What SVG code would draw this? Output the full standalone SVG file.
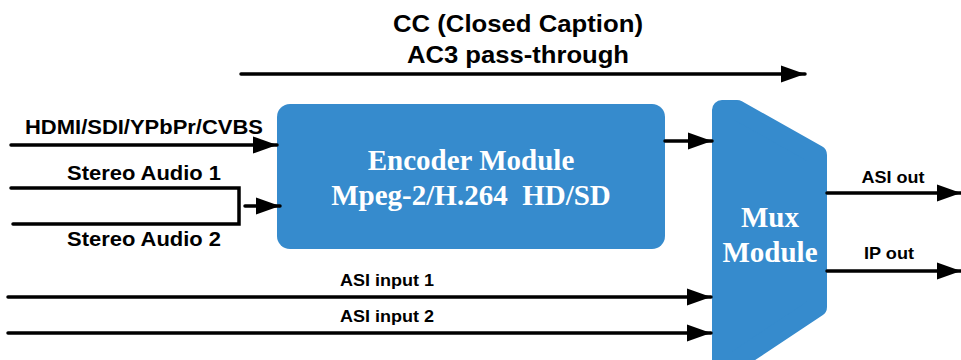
<svg xmlns="http://www.w3.org/2000/svg" width="961" height="360" viewBox="0 0 961 360">
<defs>
<marker id="ah" markerWidth="7" markerHeight="5" refX="7" refY="2.5" orient="auto" markerUnits="strokeWidth">
<path d="M0,0 L7,2.5 L0,5 Z" fill="#000"/>
</marker>
<style>
.ln{stroke:#000;stroke-width:3.5;fill:none;stroke-linecap:round}
.ar{marker-end:url(#ah)}
.lb{font-family:"Liberation Sans",Arial,sans-serif;font-weight:bold;fill:#000;text-anchor:middle}
.nt{font-family:"Liberation Serif","Times New Roman",serif;font-weight:bold;fill:#fff;text-anchor:middle}
.blk{fill:#368bcd}
</style>
</defs>
<rect width="961" height="360" fill="#fff"/>
<g id="encoder">
<rect class="blk" x="277" y="104" width="388" height="145" rx="13"/>
<text class="nt" x="471" y="170" font-size="29">Encoder Module</text>
<text class="nt" x="471" y="205" font-size="29" xml:space="preserve">Mpeg-2/H.264  HD/SD</text>
</g>
<g id="mux">
<path class="blk" d="M722,110 L737,110 L817,155 L817,307 L722,370 Z" stroke="#368bcd" stroke-width="20" stroke-linejoin="round"/>
<text class="nt" x="770" y="227" font-size="29">Mux</text>
<text class="nt" x="770" y="262" font-size="29">Module</text>
</g>
<g id="connectors">
<line class="ln ar" x1="241" y1="74" x2="805" y2="74"/>
<line class="ln ar" x1="11" y1="145" x2="277" y2="145"/>
<polyline class="ln" points="11,188 239,188 239,224 13,224"/>
<line class="ln ar" x1="245" y1="206" x2="280" y2="206"/>
<line class="ln ar" x1="665" y1="141" x2="712" y2="141"/>
<line class="ln ar" x1="8" y1="297" x2="711" y2="297"/>
<line class="ln ar" x1="8" y1="333" x2="711" y2="333"/>
<line class="ln ar" x1="827" y1="193" x2="961" y2="193"/>
<line class="ln ar" x1="827" y1="271" x2="961" y2="271"/>
</g>
<g id="labels">
<text class="lb" x="518" y="32" font-size="24" textLength="250" lengthAdjust="spacingAndGlyphs">CC (Closed Caption)</text>
<text class="lb" x="518" y="63" font-size="24" textLength="222" lengthAdjust="spacingAndGlyphs">AC3 pass-through</text>
<text class="lb" x="144" y="134" font-size="20" textLength="238" lengthAdjust="spacingAndGlyphs">HDMI/SDI/YPbPr/CVBS</text>
<text class="lb" x="144" y="180" font-size="20" textLength="154" lengthAdjust="spacingAndGlyphs">Stereo Audio 1</text>
<text class="lb" x="144" y="246" font-size="20" textLength="154" lengthAdjust="spacingAndGlyphs">Stereo Audio 2</text>
<text class="lb" x="387" y="286" font-size="16.5" textLength="94" lengthAdjust="spacingAndGlyphs">ASI input 1</text>
<text class="lb" x="387" y="322" font-size="16.5" textLength="94" lengthAdjust="spacingAndGlyphs">ASI input 2</text>
<text class="lb" x="893" y="183" font-size="16.5" textLength="63" lengthAdjust="spacingAndGlyphs">ASI out</text>
<text class="lb" x="889" y="259" font-size="16.5" textLength="50" lengthAdjust="spacingAndGlyphs">IP out</text>
</g>
</svg>
